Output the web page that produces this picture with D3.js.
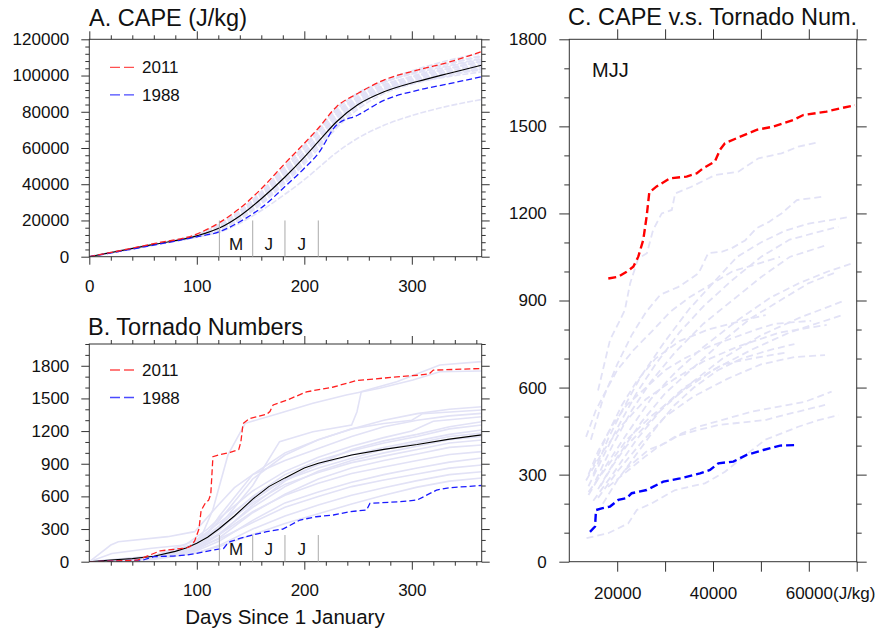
<!DOCTYPE html>
<html>
<head>
<meta charset="utf-8" />
<script src="https://cdn.jsdelivr.net/npm/d3@7"></script>
<style>
  body { margin: 0; background: #fff; }
  text { font-family: "Liberation Sans", Arial, Helvetica, sans-serif; }
</style>
</head>
<body>
<svg id="chart" width="879" height="632"></svg>
<script>
// ---------- data ----------
// A. cumulative CAPE (J/kg), sampled at these days
const daysA = [0, 60, 100, 121, 140, 160, 182, 200, 213, 230, 250, 274, 305, 335, 365];
const cape2011 = [0, 7200, 12500, 18800, 26700, 37500, 51500, 62600, 70900, 82800, 90200, 97500, 103000, 107500, 113200];
const cape1988 = [0, 6400, 11000, 13800, 19300, 27000, 38700, 48800, 57000, 72700, 78200, 86300, 91800, 95500, 99400];
const capeMean = [0, 6800, 11500, 15800, 22500, 32000, 44000, 55000, 63500, 74500, 84000, 91000, 96700, 101300, 105700];
const capeOthers = [
  [0, 6400, 10800, 13500, 18500, 25500, 34500, 42500, 49000, 57500, 65500, 72500, 78800, 83300, 86800],
  [0, 7100, 12300, 18000, 25500, 36000, 50000, 61000, 69500, 81500, 89500, 97000, 103500, 108500, 112500],
  [0, 7000, 12000, 17200, 24500, 35000, 48500, 59500, 68000, 80000, 88500, 96000, 102000, 106500, 110500],
  [0, 6900, 11800, 16800, 23800, 34000, 47000, 58000, 66500, 78500, 87500, 94500, 100500, 105000, 109000],
  [0, 6800, 11600, 16300, 23000, 33000, 45500, 56500, 65000, 77000, 86500, 93500, 99000, 103500, 107500],
  [0, 6700, 11400, 15500, 22000, 31500, 43000, 54000, 62500, 74000, 84500, 92500, 98000, 102500, 106500],
  [0, 6600, 11200, 15000, 21000, 30000, 41500, 52500, 61000, 72000, 83000, 91500, 97000, 101500, 105000],
  [0, 6500, 11000, 14500, 20500, 29000, 40500, 51000, 59500, 71000, 81500, 90000, 96000, 100000, 104000],
  [0, 7000, 11900, 17000, 24000, 34500, 48000, 60000, 69000, 81000, 90500, 96500, 101500, 105500, 109500],
  [0, 6800, 11500, 16000, 22800, 32500, 44500, 55500, 64000, 76000, 85500, 93000, 98500, 102500, 106000],
  [0, 6600, 11300, 15200, 21500, 31000, 42000, 53000, 62000, 73500, 84000, 92000, 97500, 101500, 104500],
  [0, 6900, 11700, 16600, 23500, 33500, 46500, 57500, 66000, 79000, 88000, 95000, 100000, 104000, 108000],
  [0, 6700, 11300, 15800, 22500, 32000, 44000, 55000, 63500, 75500, 86000, 93000, 97500, 101000, 103500],
  [0, 6500, 11100, 14800, 20800, 29500, 41000, 52000, 61500, 74500, 85000, 92500, 96500, 99500, 102000],
  [0, 7100, 12100, 17500, 25000, 35500, 49500, 61500, 70000, 82000, 90000, 96500, 102500, 107000, 111000],
  [0, 6800, 11600, 16200, 23200, 33500, 46000, 57000, 65500, 77500, 87000, 94000, 99500, 104000, 108000],
  [0, 6600, 11100, 15000, 21200, 30500, 42500, 53500, 61500, 73000, 83500, 91000, 96500, 100500, 103000]
];

// B. cumulative tornado numbers, [day, count]
const torn2011 = [[0,0],[20,5],[45,15],[56,60],[66,100],[80,115],[90,125],[94,140],[98,190],[102,300],[104,470],[108,540],[111,565],[113,620],[115,965],[120,980],[131,1005],[139,1030],[141,1100],[143,1270],[149,1315],[165,1355],[168,1380],[171,1440],[184,1485],[202,1560],[227,1605],[249,1665],[289,1700],[308,1715],[316,1725],[320,1760],[365,1775]];
const torn1988 = [[0,0],[30,8],[50,15],[60,46],[78,52],[90,61],[100,77],[115,107],[125,122],[128,160],[131,184],[140,214],[152,245],[165,276],[180,300],[186,330],[196,383],[211,413],[227,429],[242,459],[258,475],[261,536],[289,551],[305,567],[311,597],[323,658],[335,680],[365,700]];
const tornMean = [[0,0],[20,15],[40,28],[60,50],[80,95],[90,125],[100,170],[110,225],[121,305],[135,420],[152,575],[167,690],[182,770],[200,860],[213,905],[244,980],[274,1032],[305,1076],[335,1126],[365,1165]];
const tornOthers = [
  [[0,0],[60,40],[90,90],[105,250],[115,480],[129,981],[145,1271],[177,1363],[208,1455],[239,1532],[270,1593],[301,1669],[326,1745],[365,1752]],
  [[0,0],[60,45],[100,160],[121,330],[152,700],[177,1103],[208,1194],[244,1256],[249,1378],[253,1562],[286,1654],[326,1807],[365,1838]],
  [[0,0],[40,20],[80,70],[100,150],[121,380],[152,760],[182,980],[213,1120],[244,1220],[274,1300],[305,1360],[335,1400],[365,1424]],
  [[0,0],[50,30],[90,110],[110,260],[121,420],[152,800],[182,1000],[213,1120],[244,1220],[274,1270],[300,1300],[310,1360],[365,1394]],
  [[0,0],[20,153],[27,184],[73,230],[98,276],[120,521],[135,680],[152,800],[182,930],[213,1040],[244,1150],[274,1240],[305,1300],[335,1340],[365,1363]],
  [[0,0],[21,76],[58,123],[89,153],[110,300],[121,400],[152,650],[182,830],[213,960],[244,1060],[274,1140],[300,1200],[320,1290],[365,1332]],
  [[0,0],[60,40],[100,120],[121,250],[152,520],[182,740],[213,900],[244,1030],[274,1110],[305,1170],[335,1240],[365,1286]],
  [[0,0],[60,50],[100,170],[121,330],[152,600],[182,800],[213,930],[244,1020],[274,1090],[305,1150],[335,1220],[365,1256]],
  [[0,0],[60,35],[100,140],[121,290],[152,560],[182,760],[213,890],[244,980],[274,1050],[305,1110],[335,1170],[365,1210]],
  [[0,0],[60,55],[100,200],[121,360],[152,590],[182,750],[213,860],[244,950],[274,1030],[305,1090],[335,1150],[365,1181]],
  [[0,0],[50,30],[100,130],[121,260],[152,500],[182,690],[213,830],[244,930],[274,1000],[305,1060],[335,1120],[365,1150]],
  [[0,0],[60,40],[100,170],[121,310],[152,540],[182,710],[213,820],[244,910],[274,970],[305,1030],[335,1090],[365,1118]],
  [[0,0],[60,30],[100,110],[121,220],[152,450],[182,620],[213,760],[244,860],[274,930],[305,990],[335,1050],[365,1072]],
  [[0,0],[60,45],[100,150],[121,250],[152,460],[182,610],[213,720],[244,810],[274,870],[305,930],[335,985],[365,1011]],
  [[0,0],[60,25],[100,100],[121,190],[152,380],[182,540],[213,640],[244,730],[274,800],[305,860],[335,915],[365,953]],
  [[0,0],[60,35],[100,125],[121,210],[152,360],[182,500],[213,600],[244,690],[274,750],[305,805],[335,860],[365,888]],
  [[0,0],[60,20],[100,80],[121,150],[152,300],[182,420],[213,520],[244,610],[274,680],[305,745],[335,800],[365,827]],
  [[0,0],[60,30],[100,85],[121,140],[152,250],[182,350],[213,440],[244,530],[274,610],[305,685],[335,740],[365,769]]
];

// C. CAPE vs tornado number during MJJ, [cape, count]
const c2011 = [[18140,976],[20230,982],[21970,999],[23360,1016],[24400,1051],[25440,1109],[26140,1189],[26700,1272],[28230,1293],[31010,1321],[34490,1327],[36580,1338],[37970,1356],[40400,1379],[41450,1419],[42490,1442],[44930,1459],[49100,1488],[52580,1499],[56760,1522],[58840,1539],[63710,1551],[66500,1562],[69630,1573]];
const c1988 = [[14320,103],[15370,121],[15580,178],[16760,184],[18500,190],[20240,213],[21980,219],[23020,236],[26150,247],[29630,276],[33110,287],[37290,304],[39380,316],[41120,339],[44250,345],[47030,368],[50510,385],[54000,400],[57470,402]];
const cOthers = [
  [[16000,590],[18500,764],[20600,833],[21600,867],[22700,959],[24400,1045],[26200,1063],[27500,1143],[29300,1200],[31400,1212],[32100,1269],[35500,1292],[40400,1332],[45300,1344],[49500,1390],[54300,1407],[57800,1430],[61700,1444]],
  [[14500,420],[17000,560],[20000,680],[23000,780],[26000,860],[29000,920],[32800,947],[34900,970],[37000,994],[39000,1063],[41800,1068],[43900,1080],[46700,1107],[49100,1149],[51600,1170],[54300,1200],[57500,1246],[63000,1258]],
  [[15000,300],[18000,420],[21000,520],[25000,640],[30000,760],[35000,870],[40000,960],[45000,1050],[50000,1100],[55000,1140],[60000,1165],[68250,1187]],
  [[14000,260],[17000,360],[20000,460],[24000,580],[28000,680],[33000,790],[38000,880],[44000,970],[50000,1050],[56000,1110],[66170,1154]],
  [[15500,280],[19000,400],[23000,520],[27000,620],[32000,720],[38000,820],[44000,900],[50000,980],[56000,1050],[63730,1091]],
  [[14000,230],[18000,340],[22000,440],[27000,560],[32000,650],[38000,740],[45000,830],[52000,910],[58000,960],[64000,1000],[68730,1026]],
  [[16000,250],[20000,360],[25000,480],[30000,580],[36000,670],[42000,760],[48000,840],[55000,910],[60000,960],[65950,999]],
  [[15000,210],[19000,300],[24000,420],[29000,520],[35000,610],[42000,700],[50000,780],[58000,840],[67340,899]],
  [[14000,240],[18000,330],[22000,420],[27000,500],[33000,580],[40000,660],[48000,730],[56000,790],[66650,848]],
  [[13500,280],[17000,380],[21000,470],[26000,560],[32000,630],[38000,690],[45000,740],[54000,790],[63740,816]],
  [[16000,220],[20000,310],[25000,410],[30000,500],[36000,570],[43000,630],[50000,680],[57000,705],[63390,712]],
  [[21600,316],[26500,385],[30000,408],[33500,442],[36900,465],[41800,488],[48100,517],[52200,530],[59200,551],[64770,586]],
  [[18100,258],[25800,362],[28600,396],[32100,431],[36900,454],[41100,471],[50900,488],[56000,510],[63400,540]],
  [[13600,81],[18100,98],[22300,132],[24100,178],[27200,201],[32100,247],[38300,270],[42500,310],[47000,370],[50900,420],[57800,465],[62000,488],[66200,505]],
  [[13500,430],[15500,520],[18000,600],[20000,660],[23400,729],[27500,798],[31000,860],[35000,910],[40000,960],[44000,1000],[50000,1030],[54000,1050]],
  [[15000,330],[18000,440],[21000,540],[24000,620],[28000,700],[33000,760],[39000,800],[46000,830],[51000,850]],
  [[17000,200],[20000,280],[24000,370],[28000,460],[32000,540],[36000,600],[41000,660],[46000,700],[52000,730],[57000,750]],
  [[14000,300],[16000,380],[19000,470],[22000,540],[26000,600],[30000,660],[34000,700],[39000,740],[44000,770],[49000,800],[53000,820],[60500,830]],
  [[16500,260],[19000,330],[22000,400],[26000,470],[30000,540],[34000,600],[38000,640],[42000,680],[48000,700],[55000,720]]
];

const monthDays = [121, 152, 182, 213];
const monthLabels = ["M", "J", "J"];
const legendYears = ["2011", "1988"];

// ---------- drawing ----------
const svg = d3.select("#chart");
const lav = "#e2e2f6";
const axisCol = "#333";

const xDay = d3.scaleLinear().domain([0, 365]).range([89.3, 481.7]);
const yA = d3.scaleLinear().domain([0, 120000]).range([256.7, 39.3]);
const yB = d3.scaleLinear().domain([0, 2000]).range([561.7, 344]);
const xC = d3.scaleLinear().domain([10000, 70000]).range([569.3, 856.7]);
const yC = d3.scaleLinear().domain([0, 1800]).range([561.7, 39.3]);

function styleAxis(g) {
  g.select(".domain").remove();
  g.selectAll("line").attr("stroke", axisCol).attr("stroke-width", 1);
  g.attr("font-size", 17).attr("font-family", null);
  g.selectAll("text").attr("fill", "#111");
}

function frame(id, x, y, o) {
  const g = svg.append("g").attr("id", id);
  const [x0, x1] = x.range(), [y0, y1] = y.range();
  const fmtX = o.xFmt || (d => o.xLab.includes(d) ? d : "");
  // bottom + top
  g.append("g").attr("transform", `translate(0,${y0})`)
    .call(d3.axisBottom(x).tickValues(o.xMin).tickSize(o.minLen).tickFormat("")).call(styleAxis);
  g.append("g").attr("class", "xlab").attr("transform", `translate(0,${y0})`)
    .call(d3.axisBottom(x).tickValues(o.xMaj).tickSize(o.xMajLen || o.majLen).tickPadding(o.xPad).tickFormat(fmtX)).call(styleAxis);
  g.append("g").attr("transform", `translate(0,${y1})`)
    .call(d3.axisTop(x).tickValues(o.xMin).tickSize(o.minLen).tickFormat("")).call(styleAxis);
  g.append("g").attr("transform", `translate(0,${y1})`)
    .call(d3.axisTop(x).tickValues(o.xMaj).tickSize(o.xMajLen || o.majLen).tickFormat("")).call(styleAxis);
  // left + right
  g.append("g").attr("transform", `translate(${x0},0)`)
    .call(d3.axisLeft(y).tickValues(o.yMin).tickSize(o.minLen).tickFormat("")).call(styleAxis);
  g.append("g").attr("transform", `translate(${x0},0)`)
    .call(d3.axisLeft(y).tickValues(o.yMaj).tickSize(o.majLen).tickPadding(o.yPad).tickFormat(d => d)).call(styleAxis);
  g.append("g").attr("transform", `translate(${x1},0)`)
    .call(d3.axisRight(y).tickValues(o.yMin).tickSize(o.minLen).tickFormat("")).call(styleAxis);
  g.append("g").attr("transform", `translate(${x1},0)`)
    .call(d3.axisRight(y).tickValues(o.yMaj).tickSize(o.majLen).tickFormat("")).call(styleAxis);
  g.append("rect").attr("x", x0).attr("y", y1).attr("width", x1 - x0).attr("height", y0 - y1)
    .attr("fill", "none").attr("stroke", axisCol).attr("stroke-width", 1);
  svg.append("clipPath").attr("id", id + "-clip").append("rect")
    .attr("x", x0).attr("y", y1).attr("width", x1 - x0).attr("height", y0 - y1);
  return g;
}

const range = (a, b, s) => d3.range(a, b + 0.001, s);
const without = (arr, ex) => arr.filter(v => !ex.includes(v));

// plot layers (drawn before frames so axes sit on top)
const plotA = svg.append("g").attr("clip-path", "url(#pA-clip)");
const plotB = svg.append("g").attr("clip-path", "url(#pB-clip)");
const plotC = svg.append("g").attr("clip-path", "url(#pC-clip)");

frame("pA", xDay, yA, {
  xMaj: [0, 100, 200, 300], xMin: without(range(0, 360, 20), [0, 100, 200, 300]), xLab: [0, 100, 200, 300],
  yMaj: range(0, 120000, 20000), yMin: without(range(0, 120000, 4000), range(0, 120000, 20000)),
  majLen: 8, minLen: 4, xPad: 15.5, yPad: 12
});
frame("pB", xDay, yB, {
  xMaj: [100, 200, 300], xMin: without(range(20, 360, 20), [100, 200, 300]), xLab: [100, 200, 300],
  yMaj: range(0, 1800, 300), yMin: without(range(0, 2000, 100), range(0, 1800, 300)),
  majLen: 8, minLen: 4, xPad: 14.5, yPad: 12
});
const fC = frame("pC", xC, yC, {
  xMaj: range(20000, 70000, 10000), xMin: [], xLab: [20000, 40000, 60000],
  yMaj: range(0, 1800, 300), yMin: without(range(0, 1800, 100), range(0, 1800, 300)),
  majLen: 10, minLen: 5, xPad: 15.5, yPad: 12.5
});
fC.selectAll(".xlab .tick text").filter(d => d === 60000)
  .attr("text-anchor", "start").attr("x", -23.6).text("60000(J/kg)");

// ----- panel A -----
const lineA = d3.line().x((v, i) => xDay(daysA[i])).y(v => yA(v)).curve(d3.curveMonotoneX);
plotA.selectAll(".oth").data(capeOthers).enter().append("path")
  .attr("d", lineA).attr("fill", "none").attr("stroke", lav).attr("stroke-width", 1.6).attr("stroke-dasharray", "6,2");
plotA.append("path").attr("d", lineA(capeMean)).attr("fill", "none").attr("stroke", "#000").attr("stroke-width", 1.1);
plotA.append("path").attr("d", lineA(cape1988)).attr("fill", "none").attr("stroke", "#1a1aff").attr("stroke-width", 1.3).attr("stroke-dasharray", "6,3");
plotA.append("path").attr("d", lineA(cape2011)).attr("fill", "none").attr("stroke", "#ff2020").attr("stroke-width", 1.3).attr("stroke-dasharray", "6,3");

// ----- panel B -----
const lineB = d3.line().x(p => xDay(p[0])).y(p => yB(p[1]));
plotB.selectAll(".oth").data(tornOthers).enter().append("path")
  .attr("d", lineB).attr("fill", "none").attr("stroke", lav).attr("stroke-width", 1.6);
plotB.append("path").attr("d", lineB(tornMean)).attr("fill", "none").attr("stroke", "#000").attr("stroke-width", 1.1);
plotB.append("path").attr("d", lineB(torn1988)).attr("fill", "none").attr("stroke", "#1a1aff").attr("stroke-width", 1.3).attr("stroke-dasharray", "6,3");
plotB.append("path").attr("d", lineB(torn2011)).attr("fill", "none").attr("stroke", "#ff2020").attr("stroke-width", 1.3).attr("stroke-dasharray", "6,3");

// month markers for A and B
function months(y, top, labelVal) {
  const g = svg.append("g");
  g.selectAll("line").data(monthDays).enter().append("line")
    .attr("x1", d => xDay(d)).attr("x2", d => xDay(d))
    .attr("y1", y(0)).attr("y2", y(top))
    .attr("stroke", "#aaa").attr("stroke-width", 1);
  g.selectAll("text").data(monthLabels).enter().append("text")
    .attr("x", (d, i) => (xDay(monthDays[i]) + xDay(monthDays[i + 1])) / 2)
    .attr("y", y(0) - 6.5)
    .attr("text-anchor", "middle").attr("font-size", 17).attr("fill", "#111")
    .text(d => d);
}
months(yA, 20000);
months(yB, 245);

// legends
function legend(y0) {
  const g = svg.append("g");
  const cols = ["#ff5050", "#4a4aff"];
  legendYears.forEach((t, i) => {
    const y = y0 + i * 27.5;
    g.append("line").attr("x1", 110).attr("x2", 137).attr("y1", y).attr("y2", y)
      .attr("stroke", cols[i]).attr("stroke-width", 1.3).attr("stroke-dasharray", "10,4");
    g.append("text").attr("x", 142).attr("y", y + 6).attr("font-size", 17).attr("fill", "#111").text(t);
  });
}
legend(67.3);
legend(370);

// ----- panel C -----
const lineC = d3.line().x(p => xC(p[0])).y(p => yC(p[1]));
plotC.selectAll(".oth").data(cOthers).enter().append("path")
  .attr("d", lineC).attr("fill", "none").attr("stroke", lav).attr("stroke-width", 1.8).attr("stroke-dasharray", "7,4");
plotC.append("path").attr("d", lineC(c1988)).attr("fill", "none").attr("stroke", "#0000ff").attr("stroke-width", 2.4).attr("stroke-dasharray", "8,4");
plotC.append("path").attr("d", lineC(c2011)).attr("fill", "none").attr("stroke", "#ff0000").attr("stroke-width", 2.4).attr("stroke-dasharray", "8,4");

// titles
const titles = [
  { t: "A. CAPE (J/kg)", x: 89, y: 26 },
  { t: "B. Tornado Numbers", x: 88, y: 335 },
  { t: "C. CAPE v.s. Tornado Num.", x: 568, y: 25 }
];
svg.selectAll(".title").data(titles).enter().append("text")
  .attr("x", d => d.x).attr("y", d => d.y).attr("font-size", 23.5).attr("fill", "#111").text(d => d.t);
svg.append("text").attr("x", 592).attr("y", 77).attr("font-size", 20).attr("fill", "#111").text("MJJ");
svg.append("text").attr("x", 285).attr("y", 624).attr("text-anchor", "middle")
  .attr("font-size", 20.5).attr("fill", "#111").text("Days Since 1 January");
</script>
</body>
</html>
